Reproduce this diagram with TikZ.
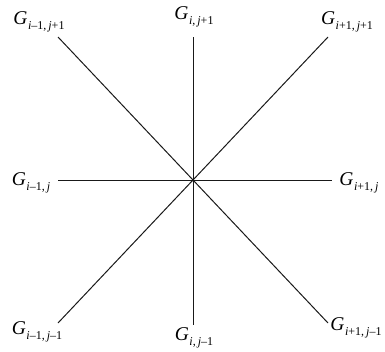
\documentclass[tikz,border=0pt]{standalone}
\usepackage{tikz}
\usepackage{fontspec}
\setmainfont{Liberation Serif}
\newcommand{\Gsub}[1]{\textit{G}\kern0.5pt\raisebox{-4.5pt}{\fontsize{12}{12}\selectfont #1}}
\begin{document}
\begin{tikzpicture}[x=1pt,y=-1pt,
  lbl/.style={inner sep=0pt,font=\fontsize{19.5}{21}\selectfont},
  spoke/.style={draw=black!90,line width=1pt}]
\useasboundingbox (0,0) rectangle (385,351);
\coordinate (c) at (193,180);
\coordinate (tl) at (58,37);
\coordinate (t) at (193,37);
\coordinate (tr) at (328,37);
\coordinate (l) at (58,180);
\coordinate (r) at (332,180);
\coordinate (bl) at (58,323);
\coordinate (b) at (193,325);
\coordinate (br) at (328,323);
\node[lbl] (Ntl) at (39,22) {\Gsub{\textit{i}–1,\,\textit{j}+1}};
\node[lbl] (Nt) at (194,17) {\Gsub{\textit{i},\,\textit{j}+1}};
\node[lbl] (Ntr) at (347,22) {\Gsub{\textit{i}+1,\,\textit{j}+1}};
\node[lbl] (Nl) at (31,183) {\Gsub{\textit{i}–1,\,\textit{j}}};
\node[lbl] (Nr) at (359,183) {\Gsub{\textit{i}+1,\,\textit{j}}};
\node[lbl] (Nbl) at (37,332) {\Gsub{\textit{i}–1,\,\textit{j}–1}};
\node[lbl] (Nb) at (194,338) {\Gsub{\textit{i},\,\textit{j}–1}};
\node[lbl] (Nbr) at (356,328) {\Gsub{\textit{i}+1,\,\textit{j}–1}};
\draw[spoke] (tl) -- (br);
\draw[spoke] (tr) -- (bl);
\draw[spoke] (t) -- (b);
\draw[spoke] (l) -- (r);
\end{tikzpicture}
\end{document}
